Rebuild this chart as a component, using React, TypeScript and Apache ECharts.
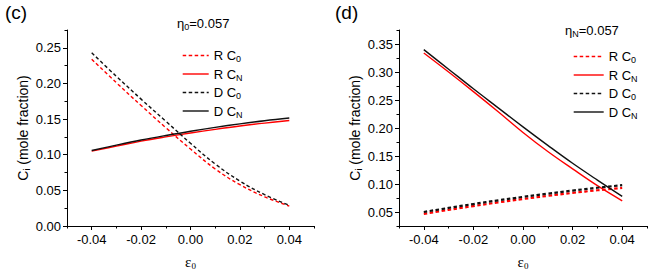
import React, { useEffect, useRef } from "react";
import * as echarts from "echarts";

const strain = [-0.04, -0.03, -0.02, -0.01, 0.0, 0.01, 0.02, 0.03, 0.04];

// panel (c)
const cRC0 = [0.234, 0.201, 0.169, 0.138, 0.108, 0.080, 0.058, 0.041, 0.028];
const cRCN = [0.105, 0.112, 0.119, 0.125, 0.1305, 0.1356, 0.1403, 0.1444, 0.148];
const cDC0 = [0.243, 0.210, 0.178, 0.147, 0.116, 0.087, 0.063, 0.044, 0.029];
const cDCN = [0.106, 0.1135, 0.1206, 0.127, 0.133, 0.1384, 0.1433, 0.1477, 0.1515];

// panel (d)
const dRC0 = [0.0467, 0.0538, 0.0606, 0.0671, 0.0732, 0.0789, 0.0841, 0.0888, 0.093];
const dRCN = [0.334, 0.300, 0.265, 0.229, 0.192, 0.158, 0.127, 0.097, 0.070];
const dDC0 = [0.050, 0.0573, 0.0642, 0.0708, 0.077, 0.0828, 0.0882, 0.0933, 0.098];
const dDCN = [0.340, 0.305, 0.270, 0.236, 0.202, 0.169, 0.137, 0.107, 0.078];

const xTicks = [-0.04, -0.02, 0.0, 0.02, 0.04];
const cYTicks = [0.0, 0.05, 0.1, 0.15, 0.2, 0.25];
const dYTicks = [0.05, 0.1, 0.15, 0.2, 0.25, 0.3, 0.35];
const legendNames = ["R C0", "R CN", "D C0", "D CN"];

const FONT = "Liberation Sans, Arial, sans-serif";
const RED = "#ff0000";
const BLACK = "#111111";

export default function App() {
  const ref = useRef<HTMLDivElement>(null);
  useEffect(() => {
    document.body.style.margin = "0";
    const chart = echarts.init(ref.current!, null, { renderer: "svg" });
    const pts = (arr: number[]) => strain.map((x, i) => [x, arr[i]]);
    const sub = { fontSize: 9, fontFamily: FONT, color: "#000", padding: [7, 0, 0, 0] };

    const mainX = (grid: number) => ({
      type: "value",
      gridIndex: grid,
      position: "bottom",
      min: -0.05,
      max: 0.05,
      interval: 0.01,
      name: "ε{s|0}",
      nameLocation: "middle",
      nameGap: 28,
      nameTextStyle: {
        fontSize: 15,
        fontFamily: "Liberation Serif, serif",
        color: "#000",
        rich: { s: { ...sub, fontFamily: "Liberation Serif, serif" } },
      },
      axisLine: { show: true, onZero: false, lineStyle: { color: "#000", width: 1 } },
      axisTick: { show: true, length: 4, customValues: xTicks, lineStyle: { color: "#000" } },
      axisLabel: {
        customValues: xTicks,
        fontSize: 13,
        fontFamily: FONT,
        color: "#000",
        margin: 7,
        formatter: (v: number) => v.toFixed(2),
      },
      splitLine: { show: false },
    });
    const minorX = (grid: number) => ({
      type: "value",
      gridIndex: grid,
      position: "bottom",
      min: -0.05,
      max: 0.05,
      interval: 0.01,
      axisLine: { show: false, onZero: false },
      axisTick: { show: true, length: 2.5, lineStyle: { color: "#000" } },
      axisLabel: { show: false },
      splitLine: { show: false },
    });
    const mainY = (grid: number, min: number, max: number, ticks: number[]) => ({
      type: "value",
      gridIndex: grid,
      position: "left",
      min,
      max,
      interval: 0.025,
      name: "C{s|i} (mole fraction)",
      nameLocation: "middle",
      nameGap: 36,
      nameTextStyle: { fontSize: 14, fontFamily: FONT, color: "#000", rich: { s: sub } },
      axisLine: { show: true, onZero: false, lineStyle: { color: "#000", width: 1 } },
      axisTick: { show: true, length: 4, customValues: ticks, lineStyle: { color: "#000" } },
      axisLabel: {
        customValues: ticks,
        fontSize: 13,
        fontFamily: FONT,
        color: "#000",
        margin: 6,
        formatter: (v: number) => v.toFixed(2),
      },
      splitLine: { show: false },
    });
    const minorY = (grid: number, min: number, max: number) => ({
      type: "value",
      gridIndex: grid,
      position: "left",
      min,
      max,
      interval: 0.025,
      axisLine: { show: false, onZero: false },
      axisTick: { show: true, length: 2.5, lineStyle: { color: "#000" } },
      axisLabel: { show: false },
      splitLine: { show: false },
    });

    const mk = (
      name: string,
      data: number[],
      color: string,
      dashed: boolean,
      axis: number,
      dashWidth: number
    ) => ({
      type: "line",
      name,
      xAxisIndex: axis,
      yAxisIndex: axis,
      data: pts(data),
      smooth: 0.4,
      symbol: "none",
      lineStyle: dashed
        ? { color, width: dashWidth, type: [3.5, 2.5] }
        : { color, width: 1.4, type: "solid" },
      itemStyle: { color },
    });

    const legend = (left: number, top: number, w: number) => ({
      orient: "vertical",
      left,
      top,
      itemWidth: w,
      itemHeight: 14,
      itemGap: 4,
      data: legendNames,
      selectedMode: false,
      itemStyle: { opacity: 0, color: "transparent", borderWidth: 0 },
      lineStyle: { width: 1.4 },
      formatter: (n: string) => n.replace(/C(\w)$/, "C{s|$1}"),
      textStyle: { fontSize: 13, fontFamily: FONT, color: "#000", rich: { s: sub } },
    });

    chart.setOption({
      animation: false,
      grid: [
        { left: 67, top: 30, width: 247, height: 200 },
        { left: 399, top: 30, width: 248, height: 200 },
      ],
      xAxis: [mainX(0), minorX(0), mainX(1), minorX(1)],
      yAxis: [
        mainY(0, 0, 0.275, cYTicks),
        minorY(0, 0, 0.275),
        mainY(1, 0.025, 0.375, dYTicks),
        minorY(1, 0.025, 0.375),
      ],
      legend: [legend(177, 44, 26), legend(568, 45, 30)],
      graphic: [
        { type: "text", left: 5, top: 3, style: { text: "(c)", fontSize: 19, fontFamily: FONT, fill: "#000" } },
        { type: "text", left: 335, top: 3, style: { text: "(d)", fontSize: 19, fontFamily: FONT, fill: "#000" } },
        {
          type: "text",
          left: 177,
          top: 17,
          style: {
            text: "η{s|0}=0.057",
            fontSize: 13,
            fontFamily: FONT,
            fill: "#000",
            rich: { s: { fontSize: 9, fontFamily: FONT, fill: "#000", padding: [7, 0, 0, 0] } },
          },
        },
        {
          type: "text",
          left: 565,
          top: 24,
          style: {
            text: "η{s|N}=0.057",
            fontSize: 13,
            fontFamily: FONT,
            fill: "#000",
            rich: { s: { fontSize: 9, fontFamily: FONT, fill: "#000", padding: [7, 0, 0, 0] } },
          },
        },
      ],
      series: [
        mk("R C0", cRC0, RED, true, 0, 1.4),
        mk("R CN", cRCN, RED, false, 0, 1.4),
        mk("D C0", cDC0, BLACK, true, 0, 1.4),
        mk("D CN", cDCN, BLACK, false, 0, 1.4),
        mk("R C0", dRC0, RED, true, 2, 2.2),
        mk("R CN", dRCN, RED, false, 2, 2.2),
        mk("D C0", dDC0, BLACK, true, 2, 2.2),
        mk("D CN", dDCN, BLACK, false, 2, 2.2),
      ],
    });
    return () => chart.dispose();
  }, []);
  return (
    <div
      ref={ref}
      style={{ position: "absolute", left: 0, top: 0, width: 651, height: 275, background: "#fff" }}
    />
  );
}
